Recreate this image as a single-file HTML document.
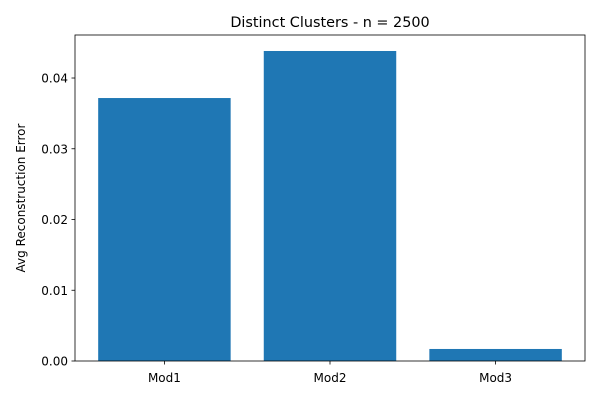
<!DOCTYPE html>
<html><head><meta charset="utf-8"><style>
body{margin:0;background:#fff;}
svg text{font-family:"DejaVu Sans","Liberation Sans",sans-serif;}
</style></head><body>
<svg id="chart" width="600" height="400" xmlns="http://www.w3.org/2000/svg">
<rect width="600" height="400" fill="#fff"/>
<text x="330" y="27" text-anchor="middle" font-size="14.4">Distinct Clusters - n = 2500</text>
<text transform="translate(25,198) rotate(-90)" text-anchor="middle" font-size="12">Avg Reconstruction Error</text>
<g id="bars"></g><g id="axes"></g>
</svg>
<script>
const categories = ["Mod1","Mod2","Mod3"];
const values = [0.03717,0.04382,0.0017];
const yTicks = [0,0.01,0.02,0.03,0.04];
const yTickLabels = ["0.00","0.01","0.02","0.03","0.04"];
const L=75,R=585,T=35,B=361, yMax=0.04608, xMin=-0.54, xMax=2.54;
const ys=v=>B-(v/yMax)*(B-T);
const xs=i=>L+(i-xMin)/(xMax-xMin)*(R-L);
const NS="http://www.w3.org/2000/svg";
const bars=document.getElementById('bars'), axes=document.getElementById('axes');
function mk(tag,attrs,parent){const e=document.createElementNS(NS,tag);for(const k in attrs)e.setAttribute(k,attrs[k]);parent.appendChild(e);return e;}
values.forEach((v,i)=>{
 const r=mk('rect',{x:xs(i-0.4),y:ys(v),width:xs(i+0.4)-xs(i-0.4),height:B-ys(v),fill:'#1f77b4'},bars);
 
 
 const t=mk('line',{x1:xs(i),x2:xs(i),y1:B,y2:B+3.5,stroke:'#000','stroke-width':0.8},axes);
 const lb=mk('text',{x:xs(i),y:B+21,'text-anchor':'middle','font-size':12},axes);
 lb.textContent=categories[i];
 
 
});
yTicks.forEach((v,i)=>{
 mk('line',{x1:L-3.5,x2:L,y1:ys(v),y2:ys(v),stroke:'#000','stroke-width':0.8},axes);
 const lb=mk('text',{x:L-7,y:ys(v)+4.5,'text-anchor':'end','font-size':12},axes);
 lb.textContent=yTickLabels[i];
 
 
});
const f=mk('rect',{x:L,y:T,width:R-L,height:B-T,fill:'none',stroke:'#000','stroke-width':0.8},axes);


</script>
</body></html>
